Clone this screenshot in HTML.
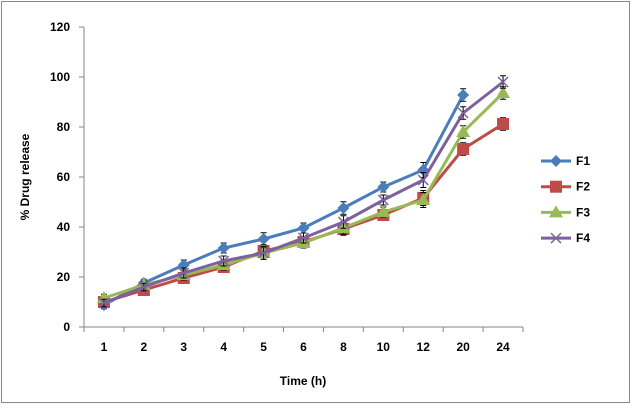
<!DOCTYPE html>
<html><head><meta charset="utf-8"><style>
body{margin:0;background:#fff;font-family:"Liberation Sans",Arial,sans-serif}
svg text{font-family:"Liberation Sans",Arial,sans-serif;font-weight:bold;fill:#000}
</style></head><body>
<svg id="chart" width="632" height="405" viewBox="0 0 632 405" xmlns="http://www.w3.org/2000/svg">
<rect x="1.5" y="1.5" width="628" height="401" fill="#fff" stroke="#888" stroke-width="1"/>
<g id="axes"></g><g id="series"></g><g id="legend"></g>
</svg>
<script>
const categories=["1","2","3","4","5","6","8","10","12","20","24"];
const yTicks=[0,20,40,60,80,100,120];
const f1=[8.8,17.6,24.8,31.6,35.2,39.6,47.6,56,62.8,92.8,null];
const f2=[10,14.8,19.6,24,30.4,34,39.2,44.8,51.6,71.2,81.2];
const f3=[11.6,16.8,20.8,24.8,29.6,33.6,39.6,46,50.8,78,93.6];
const f4=[9.6,16,21.6,26.4,29.6,35.6,42,50.8,58.8,85.6,98];
const err=[1.5,1.5,2,2,2.5,2,2.5,2,3,2.5,2.5];
const names=["F1","F2","F3","F4"];
const colors=["#4a7ebb","#be4b48","#98b954","#7d60a0"];
const NS="http://www.w3.org/2000/svg";
const X0=84,X1=523,Y0=327,Y1=27;
const xs=i=>X0+(X1-X0)/categories.length*(i+0.5);
const ys=v=>Y0-(v/120)*(Y0-Y1);
function mk(t,a,p){const e=document.createElementNS(NS,t);for(const k in a)e.setAttribute(k,a[k]);p.appendChild(e);return e;}
const ax=document.getElementById('axes');
let yl=mk('line',{x1:X0,y1:Y1,x2:X0,y2:Y0,stroke:'#868686'},ax);


let xl=mk('line',{x1:X0,y1:Y0,x2:X1,y2:Y0,stroke:'#868686'},ax);


yTicks.forEach(v=>{
 mk('line',{x1:X0-5,y1:ys(v),x2:X0,y2:ys(v),stroke:'#868686'},ax);
 const t=mk('text',{x:X0-14,y:ys(v)+4,'text-anchor':'end','font-size':12},ax);t.textContent=v;
 
 
});
for(let i=0;i<=categories.length;i++){const x=X0+(X1-X0)/categories.length*i;mk('line',{x1:x,y1:Y0,x2:x,y2:Y0+5,stroke:'#868686'},ax);}
categories.forEach((c,i)=>{const t=mk('text',{x:xs(i),y:Y0+24,'text-anchor':'middle','font-size':12},ax);t.textContent=c;
 
 });
let xt=mk('text',{x:303,y:385,'text-anchor':'middle','font-size':12},ax);xt.textContent='Time (h)';


let yt=mk('text',{x:0,y:0,'text-anchor':'middle','font-size':12,transform:'translate(29,177) rotate(-90)'},ax);yt.textContent='% Drug release';


const sg=document.getElementById('series');
function marker(k,x,y,g){
 const c=colors[k];
 if(k===0)return mk('polygon',{points:`${x},${y-6} ${x+6},${y} ${x},${y+6} ${x-6},${y}`,fill:c},g);
 if(k===1)return mk('rect',{x:x-6,y:y-6,width:12,height:12,fill:c},g);
 if(k===2)return mk('polygon',{points:`${x},${y-7} ${x+7},${y+5} ${x-7},${y+5}`,fill:c},g);
 const p=mk('path',{d:`M${x-5},${y-5}L${x+5},${y+5}M${x-5},${y+5}L${x+5},${y-5}`,stroke:c,'stroke-width':1.5},g);return p;
}
[f1,f2,f3,f4].forEach((data,k)=>{
 const g=mk('g',{},sg);
 
 
 let d='';data.forEach((v,i)=>{if(v==null)return;d+=(d?'L':'M')+xs(i)+','+ys(v);});
 mk('path',{d:d,fill:'none',stroke:colors[k],'stroke-width':3},g);
 data.forEach((v,i)=>{if(v==null)return;
  const x=xs(i),yt=ys(v+err[i]),yb=ys(v-err[i]);
  mk('path',{d:`M${x},${yt}L${x},${yb}M${x-3},${yt}L${x+3},${yt}M${x-3},${yb}L${x+3},${yb}`,stroke:'#000','stroke-width':1},g);
  const m=marker(k,x,ys(v),g);
  
  
 });
});
const lg=document.getElementById('legend');
names.forEach((n,k)=>{
 const y=161+k*25.7;
 const g=mk('g',{},lg);
 
 
 mk('line',{x1:541,y1:y,x2:571,y2:y,stroke:colors[k],'stroke-width':3},g);
 marker(k,556,y,g);
 const t=mk('text',{x:576,y:y+4,'font-size':12},g);t.textContent=n;
});
</script>
</body></html>
